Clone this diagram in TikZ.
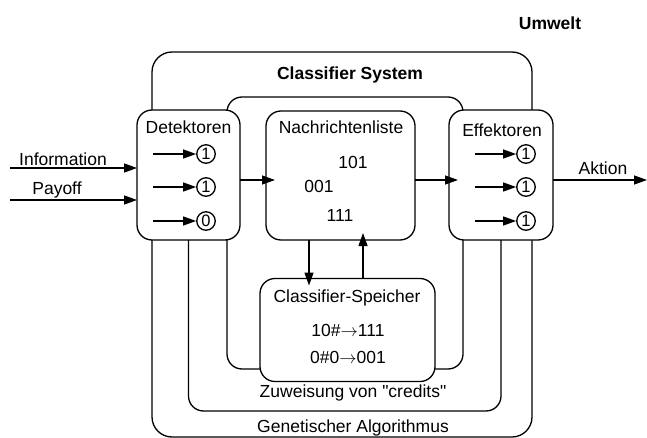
\documentclass[tikz,border=0pt]{standalone}
\usepackage{fontspec}
\setmainfont{Liberation Sans}
\newfontfamily\rawfont{Liberation Sans}
\usetikzlibrary{arrows.meta}
\begin{document}
\begin{tikzpicture}[x=1pt,y=-1pt,
 line width=1.3pt,
 frame/.style={draw,rounded corners=#1,inner sep=0pt,outer sep=0pt},
 box/.style={draw,fill=white,rounded corners=15pt,inner sep=0pt,outer sep=0pt},
 arr/.style={-{Triangle[length=13pt,width=9pt]}},
 lbl/.style={inner sep=0pt,font=\fontsize{17.5}{20}\selectfont},
 blbl/.style={inner sep=0pt,font=\fontsize{17.5}{20}\selectfont\bfseries},
 bitnode/.style={draw,circle,fill=white,inner sep=0pt,minimum size=18.5pt,font=\fontsize{16.5}{18}\selectfont},
]
\useasboundingbox (0,0) rectangle (647,438);
% frames
\node[frame=20pt,minimum width=380pt,minimum height=385pt] (umw) at (342,244.5) {};
\node[frame=15pt,minimum width=236pt,minimum height=272pt] (cls) at (345,233) {};
% boxes
\node[box,minimum width=103pt,minimum height=130pt] (det) at (188.5,175) {};
\node[box,minimum width=149pt,minimum height=129pt] (nach) at (340.5,175.5) {};
\node[box,minimum width=104pt,minimum height=130pt] (eff) at (501,175) {};
% middle loop (credits)
\draw[rounded corners=15pt] (det.south) -- (det.south |- 0,411) -- (eff.south |- 0,411) -- (eff.south);
\node[box,minimum width=175pt,minimum height=103pt] (spei) at (347.5,330) {};
% titles
\node[blbl] (tumw) at (550,23) {Umwelt};
\node[blbl] (tcls) at (350,75) {Classifier System};
\node[lbl] (tdet) at (188.5,127) {Detektoren};
\node[lbl] (tnach) at (341,127) {Nachrichtenliste};
\node[lbl] (teff) at (502,130) {Effektoren};
\node[lbl] (tspei) at (347,298) {Classifier-Speicher};
\node[lbl] (r1) at (348,330) {10\#$\rightarrow$111};
\node[lbl] (r2) at (348,357) {0\#0$\rightarrow$001};
\node[lbl] (m1) at (353,162) {101};
\node[lbl] (m2) at (319,186) {001};
\node[lbl] (m3) at (340,215) {111};
\node[lbl] (tzuw) at (353,393) {\rawfont Zuweisung von "credits"};
\node[lbl] (tgen) at (353,428) {Genetischer Algorithmus};
% detector bits
\node[bitnode] (d1) at (206,154) {1};
\node[bitnode] (d2) at (206,187) {1};
\node[bitnode] (d3) at (206,221) {0};
\coordinate (ds1) at (153,154);
\coordinate (ds2) at (153,187);
\coordinate (ds3) at (153,221);
\draw[arr] (ds1) -- (d1);
\draw[arr] (ds2) -- (d2);
\draw[arr] (ds3) -- (d3);
% effector bits
\node[bitnode] (e1) at (526,154) {1};
\node[bitnode] (e2) at (526,187) {1};
\node[bitnode] (e3) at (526,221) {1};
\coordinate (es1) at (475,154);
\coordinate (es2) at (475,187);
\coordinate (es3) at (475,221);
\draw[arr] (es1) -- (e1);
\draw[arr] (es2) -- (e2);
\draw[arr] (es3) -- (e3);
% inputs
\coordinate (inf) at (10,168);
\coordinate (pay) at (10,200);
\draw[arr] (inf) -- (inf -| det.west);
\draw[arr] (pay) -- (pay -| det.west);
\node[lbl] (tinf) at (63,159) {Information};
\node[lbl] (tpay) at (57,190) {Payoff};
% flow
\draw[arr,shorten >=-9pt] (det.east |- 0,180) -- (nach.west |- 0,180);
\draw[arr,shorten >=-9pt] (nach.east |- 0,180) -- (eff.west |- 0,180);
\coordinate (out) at (647,180);
\draw[arr] (eff.east |- out) -- (out);
\node[lbl] (takt) at (603,168) {Aktion};
\draw[arr,shorten >=-7pt] (nach.south -| 309,0) -- (spei.north -| 309,0);
\draw[arr,shorten >=-7pt] (spei.north -| 363,0) -- (nach.south -| 363,0);
\end{tikzpicture}
\end{document}
